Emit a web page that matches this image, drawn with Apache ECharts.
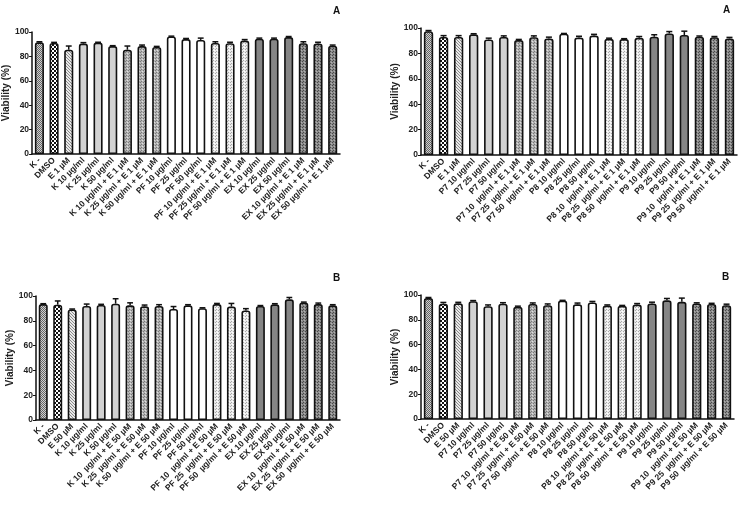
<!DOCTYPE html>
<html>
<head>
<meta charset="utf-8">
<script src="https://cdn.jsdelivr.net/npm/echarts@6/dist/echarts.min.js"></script>
<style>
  html, body { margin: 0; padding: 0; background: #fff; }
  #chart { width: 742px; height: 505px; }
</style>
</head>
<body>
<div id="chart"></div>
<script>
// categories
const catsTL = ['K -', 'DMSO', 'E 1 µM', 'K 10 µg/ml', 'K 25 µg/ml', 'K 50 µg/ml',
  'K 10 µg/ml + E 1 µM', 'K 25 µg/ml + E 1 µM', 'K 50 µg/ml + E 1 µM',
  'PF 10 µg/ml', 'PF 25 µg/ml', 'PF 50 µg/ml',
  'PF 10 µg/ml + E 1 µM', 'PF 25 µg/ml + E 1 µM', 'PF 50 µg/ml + E 1 µM',
  'EX 10 µg/ml', 'EX 25 µg/ml', 'EX 50 µg/ml',
  'EX 10 µg/ml + E 1 µM', 'EX 25 µg/ml + E 1 µM', 'EX 50 µg/ml + E 1 µM']
const catsTR = ['K -', 'DMSO', 'E 1 µM', 'P7 10 µg/ml', 'P7 25 µg/ml', 'P7 50 µg/ml',
  'P7 10  µg/ml + E 1 µM', 'P7 25  µg/ml + E 1 µM', 'P7 50  µg/ml + E 1 µM',
  'P8 10 µg/ml', 'P8 25 µg/ml', 'P8 50 µg/ml',
  'P8 10  µg/ml + E 1 µM', 'P8 25  µg/ml + E 1 µM', 'P8 50  µg/ml + E 1 µM',
  'P9 10 µg/ml', 'P9 25 µg/ml', 'P9 50 µg/ml',
  'P9 10  µg/ml + E 1 µM', 'P9 25  µg/ml + E 1 µM', 'P9 50  µg/ml + E 1 µM']
const catsBL = ['K -', 'DMSO', 'E 50 µM', 'K 10 µg/ml', 'K 25 µg/ml', 'K 50 µg/ml',
  'K 10  µg/ml + E 50 µM', 'K 25  µg/ml + E 50 µM', 'K 50  µg/ml + E 50 µM',
  'PF 10 µg/ml', 'PF 25 µg/ml', 'PF 50 µg/ml',
  'PF 10  µg/ml + E 50 µM', 'PF 25  µg/ml + E 50 µM', 'PF 50  µg/ml + E 50 µM',
  'EX 10 µg/ml', 'EX 25 µg/ml', 'EX 50 µg/ml',
  'EX 10  µg/ml + E 50 µM', 'EX 25  µg/ml + E 50 µM', 'EX 50  µg/ml + E 50 µM']
const catsBR = ['K -', 'DMSO', 'E 50 µM', 'P7 10 µg/ml', 'P7 25 µg/ml', 'P7 50 µg/ml',
  'P7 10  µg/ml + E 50 µM', 'P7 25  µg/ml + E 50 µM', 'P7 50  µg/ml + E 50 µM',
  'P8 10 µg/ml', 'P8 25 µg/ml', 'P8 50 µg/ml',
  'P8 10  µg/ml + E 50 µM', 'P8 25  µg/ml + E 50 µM', 'P8 50  µg/ml + E 50 µM',
  'P9 10 µg/ml', 'P9 25 µg/ml', 'P9 50 µg/ml',
  'P9 10  µg/ml + E 50 µM', 'P9 25  µg/ml + E 50 µM', 'P9 50  µg/ml + E 50 µM']

// viability (%) means and upper error (SD)
const valTL = [91.5, 91, 85.5, 90.5, 91.3, 88.5, 85.5, 88.5, 87.7, 96.3, 94.2, 93.5, 91, 90.8, 93, 94.5, 94.5, 95.8, 90.8, 90.6, 88.8]
const errTL = [0.5, 0.5, 3, 0.8, 0.3, 0.3, 3, 0.8, 0.5, 0.3, 0.5, 1.5, 1, 0.8, 0.8, 0.5, 0.5, 0.5, 1.2, 1, 0.5]
const valTR = [97.5, 93, 93, 95, 91, 93, 90.5, 92.8, 91.8, 95.5, 92.5, 94, 91.5, 91.3, 92.3, 93.2, 95.7, 94.5, 93.2, 92.8, 91.8]
const errTR = [0.5, 1, 1, 0.5, 1, 0.8, 0.5, 1, 1, 0.2, 1, 1, 0.5, 0.3, 1, 1.5, 1.5, 3, 0.5, 0.5, 0.8]
const valBL = [93.5, 93, 89.2, 92, 92.8, 93.8, 92.5, 91.7, 92, 89.5, 92.5, 90.2, 93.5, 91.5, 88.3, 92, 93.3, 97.3, 94.8, 93.5, 92.5]
const errBL = [0.3, 3, 0.3, 1.5, 0.5, 4, 2, 1, 1, 2, 0.5, 0.3, 0.5, 2.5, 1.5, 0.3, 0.5, 1.5, 0.3, 0.8, 0.5]
const valBR = [97.5, 93, 93.3, 95, 91, 93, 90.5, 92.8, 91.8, 95.5, 92.5, 94, 91.5, 91.3, 92.3, 93.2, 95.7, 94.5, 93.2, 92.8, 91.8]
const errBR = [0.5, 1, 0.8, 0.5, 1, 0.8, 0.5, 0.8, 1, 0.2, 1, 0.8, 0.5, 0.3, 0.8, 1, 1.5, 3, 0.5, 0.5, 0.8]

const yTicks = [0, 20, 40, 60, 80, 100]

// --- fill patterns ---
function makePattern(size, draw) {
  const c = document.createElement('canvas')
  c.width = size
  c.height = size
  const ctx = c.getContext('2d')
  draw(ctx)
  return { image: c, repeat: 'repeat' }
}
function checker(a, b, cell) {
  return makePattern(cell * 2, ctx => {
    ctx.fillStyle = b; ctx.fillRect(0, 0, cell * 2, cell * 2)
    ctx.fillStyle = a
    ctx.fillRect(0, 0, cell, cell)
    ctx.fillRect(cell, cell, cell, cell)
  })
}
function dots(bg, dot, light) {
  return makePattern(3, ctx => {
    ctx.fillStyle = bg; ctx.fillRect(0, 0, 3, 3)
    ctx.fillStyle = dot; ctx.fillRect(0, 0, 1, 1); ctx.fillRect(2, 1, 1, 1)
    ctx.fillStyle = light; ctx.fillRect(1, 2, 1, 1)
  })
}
const fills = {
  kneg: checker('#666', '#d0d0d0', 1),
  dmso: checker('#111', '#fff', 2),
  stripe: makePattern(3, ctx => {
    ctx.fillStyle = '#e8e8e8'; ctx.fillRect(0, 0, 3, 3)
    ctx.fillStyle = '#8a8a8a'
    for (let i = 0; i < 3; i++) ctx.fillRect(i, i, 1, 1)
  }),
  light: '#d2d2d2',
  dotMid: dots('#b4b4b4', '#7a7a7a', '#e0e0e0'),
  white: '#ffffff',
  dotLight: dots('#ececec', '#a8a8a8', '#ffffff'),
  dark: '#858585',
  dotDark: dots('#8c8c8c', '#4a4a4a', '#b0b0b0')
}
const groupFills = ['light', 'dotMid', 'white', 'dotLight', 'dark', 'dotDark']
function fillFor(i) {
  if (i === 0) return fills.kneg
  if (i === 1) return fills.dmso
  if (i === 2) return fills.stripe
  return fills[groupFills[Math.floor((i - 3) / 3)]]
}

const grids = [
  { left: 32, top: 32, width: 308, height: 122 },
  { left: 421, top: 28, width: 316, height: 127 },
  { left: 36, top: 296, width: 304, height: 124 },
  { left: 421, top: 295, width: 313, height: 124 }
]
const panels = [
  { cats: catsTL, vals: valTL, errs: errTL },
  { cats: catsTR, vals: valTR, errs: errTR },
  { cats: catsBL, vals: valBL, errs: errBL },
  { cats: catsBR, vals: valBR, errs: errBR }
]

const font = 'Liberation Sans, Arial, sans-serif'

const xAxes = panels.map((p, i) => ({
  type: 'category',
  gridIndex: i,
  data: p.cats,
  axisLine: { lineStyle: { color: '#111', width: 1.5 } },
  axisTick: { alignWithLabel: true, length: 4, lineStyle: { color: '#111', width: 1 } },
  axisLabel: {
    interval: 0, rotate: 45, fontSize: 8.5, fontWeight: 'bold', color: '#222',
    fontFamily: font, margin: 5
  }
}))
const yAxes = panels.map((p, i) => ({
  type: 'value',
  gridIndex: i,
  min: yTicks[0],
  max: yTicks[yTicks.length - 1],
  interval: yTicks[1] - yTicks[0],
  name: 'Viability (%)',
  nameLocation: 'middle',
  nameGap: 21,
  nameTextStyle: { fontSize: 10, fontWeight: 'bold', color: '#222', fontFamily: font },
  splitLine: { show: false },
  axisLine: { show: true, lineStyle: { color: '#111', width: 1.5 } },
  axisTick: { show: true, length: 3, lineStyle: { color: '#111' } },
  axisLabel: { fontSize: 8.5, fontWeight: 'bold', color: '#222', fontFamily: font, margin: 3 }
}))

const series = []
panels.forEach((p, i) => {
  series.push({
    type: 'bar',
    xAxisIndex: i,
    yAxisIndex: i,
    barWidth: '62%',
    data: p.vals.map((v, k) => ({
      value: v,
      itemStyle: { color: fillFor(k), borderColor: '#111', borderWidth: 1.6, borderRadius: [2, 2, 0, 0] }
    })),
    silent: true
  })
  series.push({
    type: 'custom',
    xAxisIndex: i,
    yAxisIndex: i,
    z: 3,
    silent: true,
    encode: { x: 0, y: 1 },
    data: p.vals.map((v, k) => [k, v, p.errs[k]]),
    renderItem: (params, api) => {
      const base = api.coord([api.value(0), api.value(1)])
      const top = api.coord([api.value(0), api.value(1) + api.value(2)])
      const half = api.size([1, 0])[0] * 0.2
      const st = { stroke: '#111', lineWidth: 1.5 }
      return {
        type: 'group',
        children: [
          { type: 'line', shape: { x1: base[0], y1: base[1], x2: top[0], y2: top[1] }, style: st },
          { type: 'line', shape: { x1: top[0] - half, y1: top[1], x2: top[0] + half, y2: top[1] }, style: st }
        ]
      }
    }
  })
})

const chart = echarts.init(document.getElementById('chart'), null, { renderer: 'canvas' })
chart.setOption({
  backgroundColor: '#fff',
  animation: false,
  title: [
    { text: 'A', left: 328, top: 1, textStyle: { fontSize: 10, fontWeight: 'bold', color: '#111', fontFamily: font } },
    { text: 'A', left: 718, top: 0, textStyle: { fontSize: 10, fontWeight: 'bold', color: '#111', fontFamily: font } },
    { text: 'B', left: 328, top: 268, textStyle: { fontSize: 10, fontWeight: 'bold', color: '#111', fontFamily: font } },
    { text: 'B', left: 717, top: 267, textStyle: { fontSize: 10, fontWeight: 'bold', color: '#111', fontFamily: font } }
  ],
  grid: grids,
  xAxis: xAxes,
  yAxis: yAxes,
  series: series
})
</script>
</body>
</html>
